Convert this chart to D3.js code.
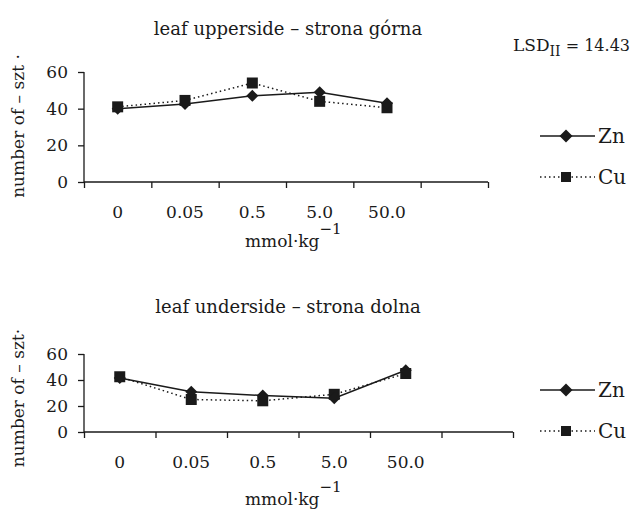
<!DOCTYPE html>
<html>
<head>
<meta charset="utf-8">
<script src="https://cdn.jsdelivr.net/npm/d3@7"></script>
<style>
  body { margin: 0; background: #fff; }
  text { font-family: "DejaVu Serif", serif; fill: #1a1a1a; }
</style>
</head>
<body>
<div class="chart"></div>
<script>
const w = 632;
const h = 509;

// doses, mmol·kg-1 (last band of the axis is left empty)
const doses = ["0", "0.05", "0.5", "5.0", "50.0"];
const upperZn = [40, 42.5, 47, 49, 43];
const upperCu = [41, 44.5, 54, 44, 40.5];
const lowerZn = [41.5, 31, 28, 26, 47.5];
const lowerCu = [42.5, 25, 24, 29, 45];
const yTicks = [0, 20, 40, 60];

const svg = d3.select(".chart")
  .append("svg")
  .attr("width", w)
  .attr("height", h);

// diamond = square turned by 45°
const diamond = size => d3.symbol(d3.symbolSquare, size)();

function panel(o) {
  const g = svg.append("g");
  const bands = doses.concat([""]);
  const x = d3.scaleBand().domain(bands).range([84, o.right]);
  const xEdge = d3.scaleLinear().domain([0, bands.length]).range([84, o.right]);
  const y = d3.scaleLinear().domain([0, 60]).range([o.bottom, o.top]);

  // tick marks at band edges
  g.append("g")
    .attr("transform", `translate(0,${o.bottom})`)
    .call(d3.axisBottom(xEdge).ticks(bands.length).tickSize(6).tickFormat(""))
    .call(a => a.select(".domain").attr("d", `M84,0H${o.right}`));
  // category labels
  g.append("g")
    .attr("transform", `translate(0,${o.bottom})`)
    .call(d3.axisBottom(x).tickSize(0).tickPadding(o.labPad))
    .call(a => a.select(".domain").remove())
    .selectAll("text").style("font-size", "17px").style("font-family", "DejaVu Serif");

  g.append("g")
    .attr("transform", "translate(84,0)")
    .call(d3.axisLeft(y).tickValues(yTicks).tickSize(6).tickPadding(10))
    .call(a => a.select(".domain").attr("d", `M0,${o.bottom}V${o.top}`))
    .selectAll("text").style("font-size", "17px").style("font-family", "DejaVu Serif");

  g.selectAll(".domain, .tick line").attr("stroke", "#1a1a1a").attr("stroke-width", 1.3);

  const cx = d => x(d) + x.bandwidth() / 2;

  const line = vals => d3.line()
    .x((d, i) => cx(doses[i]))
    .y(d => y(d))(vals);

  g.append("path").attr("d", line(o.cu))
    .attr("fill", "none").attr("stroke", "#1a1a1a").attr("stroke-width", 1.5)
    .attr("stroke-dasharray", "1.5,3");
  g.append("path").attr("d", line(o.zn))
    .attr("fill", "none").attr("stroke", "#1a1a1a").attr("stroke-width", 1.5);

  g.selectAll(".sq").data(o.cu).enter().append("path")
    .attr("transform", (d, i) => `translate(${cx(doses[i])},${y(d)})`)
    .attr("d", d3.symbol(d3.symbolSquare, 121))
    .attr("fill", "#1a1a1a");
  g.selectAll(".dm").data(o.zn).enter().append("path")
    .attr("transform", (d, i) => `translate(${cx(doses[i])},${y(d)}) rotate(45)`)
    .attr("d", diamond(72))
    .attr("fill", "#1a1a1a");

  // title
  g.append("text").attr("x", 288).attr("y", o.titleY)
    .attr("text-anchor", "middle").style("font-size", "18px")
    .text(o.title);

  // y title
  g.append("text")
    .attr("transform", `translate(24,${o.yLabY}) rotate(-90)`)
    .attr("text-anchor", "middle").style("font-size", "17px")
    .text(o.yLab);

  // x title
  const xt = g.append("text").attr("x", 245).attr("y", o.xLabY)
    .style("font-size", "17px");
  xt.append("tspan").text("mmol·kg");
  xt.append("tspan").attr("dy", -13).style("font-size", "15px").text("−1");

  // legend
  const leg = [
    { name: "Zn", y: o.legY[0], dash: null, dm: true },
    { name: "Cu", y: o.legY[1], dash: "1.5,3", dm: false }
  ];
  leg.forEach(l => {
    g.append("line").attr("x1", 540).attr("x2", 595).attr("y1", l.y).attr("y2", l.y)
      .attr("stroke", "#1a1a1a").attr("stroke-width", 1.5)
      .attr("stroke-dasharray", l.dash);
    g.append("path")
      .attr("transform", `translate(566,${l.y})` + (l.dm ? " rotate(45)" : ""))
      .attr("d", l.dm ? diamond(85) : d3.symbol(d3.symbolSquare, 100)())
      .attr("fill", "#1a1a1a");
    g.append("text").attr("x", 598).attr("y", l.y + 7).style("font-size", "20px").text(l.name);
  });
}

panel({
  title: "leaf upperside – strona górna", titleY: 35,
  yLab: "number of – szt ·", yLabY: 126,
  top: 72, bottom: 182, right: 488, labPad: 24, xLabY: 247,
  zn: upperZn, cu: upperCu, legY: [136, 177]
});

panel({
  title: "leaf underside – strona dolna", titleY: 313,
  yLab: "number of – szt·", yLabY: 398,
  top: 354, bottom: 432, right: 513, labPad: 24, xLabY: 505,
  zn: lowerZn, cu: lowerCu, legY: [390, 431]
});

// LSD note
const lsd = svg.append("text").attr("x", 630).attr("y", 51)
  .attr("text-anchor", "end").style("font-size", "17px");
lsd.append("tspan").text("LSD");
lsd.append("tspan").attr("dy", 5).style("font-size", "14px").text("II");
lsd.append("tspan").attr("dy", -5).style("font-size", "16px").text(" = 14.43");
</script>
</body>
</html>
